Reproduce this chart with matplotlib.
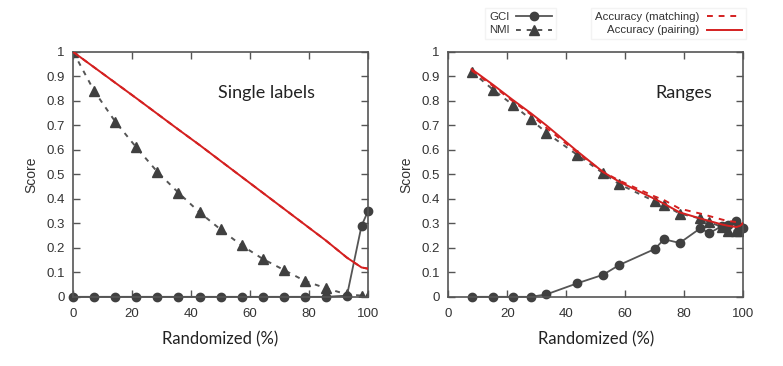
import matplotlib

matplotlib.use("Agg")
import matplotlib.pyplot as plt
from matplotlib.ticker import MultipleLocator

plt.rcParams["font.family"] = ["Liberation Sans", "DejaVu Sans"]

# ---- data -----------------------------------------------------------------
left_x = [0, 7.14, 14.29, 21.43, 28.57, 35.71, 42.86, 50, 57.14, 64.29,
          71.43, 78.57, 85.71, 92.86, 97.8, 100]
left_gci = [0, 0, 0, 0, 0, 0, 0, 0, 0, 0, 0, 0, 0, 0.005, 0.29, 0.35]
left_nmi = [1, 0.84, 0.715, 0.61, 0.51, 0.425, 0.345, 0.275, 0.21, 0.155,
            0.11, 0.065, 0.035, 0.01, 0.005, 0.005]
left_acc_pair = [1, 0.937, 0.874, 0.811, 0.747, 0.683, 0.62, 0.555, 0.49,
                 0.425, 0.36, 0.295, 0.23, 0.16, 0.12, 0.115]
left_acc_match = left_acc_pair

right_x = [7.9, 15.3, 21.8, 28, 33.3, 43.7, 52.5, 58, 70, 73.2, 78.5, 85.5,
           88.5, 93, 95, 97.7, 99, 100]
right_gci = [0, 0, 0, 0, 0.01, 0.055, 0.09, 0.13, 0.195, 0.235, 0.22, 0.28,
             0.26, 0.29, 0.295, 0.31, 0.28, 0.28]
right_nmi = [0.92, 0.845, 0.785, 0.725, 0.67, 0.58, 0.505, 0.46, 0.39, 0.375,
             0.34, 0.32, 0.305, 0.285, 0.27, 0.27, 0.27, 0.28]
right_acc_pair = [0.93, 0.865, 0.805, 0.75, 0.70, 0.595, 0.51, 0.47, 0.40,
                  0.38, 0.345, 0.32, 0.31, 0.295, 0.29, 0.285, 0.29, 0.30]
right_acc_match = [0.925, 0.86, 0.80, 0.745, 0.69, 0.59, 0.51, 0.475, 0.41,
                   0.395, 0.36, 0.34, 0.33, 0.315, 0.31, 0.305, 0.30, 0.30]

panels = [
    ("Single labels", 0.655, left_x, left_gci, left_nmi, left_acc_match, left_acc_pair),
    ("Ranges", 0.80, right_x, right_gci, right_nmi, right_acc_match, right_acc_pair),
]

DARK = "#404040"
RED = "#d42020"

fig = plt.figure(figsize=(7.83, 3.66), dpi=100)
axes = [
    fig.add_axes([0.0935, 0.189, 0.3765, 0.669]),
    fig.add_axes([0.5725, 0.189, 0.3765, 0.669]),
]

handles = {}
for ax, (title, tx, x, gci, nmi, acc_m, acc_p) in zip(axes, panels):
    (h_acc_m,) = ax.plot(x, acc_m, color=RED, lw=1.4, ls=(0, (3, 3)), zorder=3)
    (h_acc_p,) = ax.plot(x, acc_p, color=RED, lw=1.4, zorder=4)
    (h_nmi,) = ax.plot(x, nmi, color="#555555", lw=1.4, ls=(0, (2.5, 3)),
                       marker="^", ms=7, mfc=DARK, mec=DARK, zorder=2)
    (h_gci,) = ax.plot(x, gci, color="#555555", lw=1.3, marker="o", ms=6,
                       mfc=DARK, mec=DARK, zorder=2, clip_on=False)
    handles = {"GCI": h_gci, "NMI": h_nmi,
               "Accuracy (matching)": h_acc_m, "Accuracy (pairing)": h_acc_p}

    ax.set_xlim(0, 100)
    ax.set_ylim(0, 1)
    ax.xaxis.set_major_locator(MultipleLocator(20))
    ax.yaxis.set_major_locator(MultipleLocator(0.1))
    ax.yaxis.set_major_formatter(lambda v, p: f"{v:g}")
    ax.tick_params(direction="in", top=True, right=True, length=5,
                   width=1, colors="#555555", labelcolor="#333333",
                   labelsize=9.5)
    ax.tick_params(axis="x", pad=8)
    ax.tick_params(axis="y", pad=6)
    for s in ax.spines.values():
        s.set_color("#555555")
        s.set_linewidth(1.2)
    ax.set_ylabel("Score", fontsize=10, color="#333333", labelpad=6)
    ax.set_xlabel("Randomized (%)", fontsize=12, family=["Lato", "DejaVu Sans"],
                  color="#222222", labelpad=8)
    ax.text(tx, 0.833, title, transform=ax.transAxes, ha="center",
            va="center", fontsize=13, family=["Lato", "DejaVu Sans"],
            color="#222222")

leg_kw = dict(frameon=True, fontsize=8.2, markerfirst=False, handlelength=3.1,
              labelspacing=0.35, borderpad=0.35, handletextpad=0.6)
leg1 = fig.legend([handles["GCI"], handles["NMI"]], ["GCI", "NMI"],
                  loc="upper left", bbox_to_anchor=(0.612, 0.995), **leg_kw)
leg2 = fig.legend([handles["Accuracy (matching)"], handles["Accuracy (pairing)"]],
                  ["Accuracy (matching)", "Accuracy (pairing)"],
                  loc="upper left", bbox_to_anchor=(0.748, 0.995), **leg_kw)
for leg in (leg1, leg2):
    leg.get_frame().set_edgecolor("#f0f0f0")
    leg.get_frame().set_boxstyle("square", pad=0)
    for t in leg.get_texts():
        t.set_color("#333333")
        t.set_ha("right")

fig.savefig("out.png", dpi=100)
